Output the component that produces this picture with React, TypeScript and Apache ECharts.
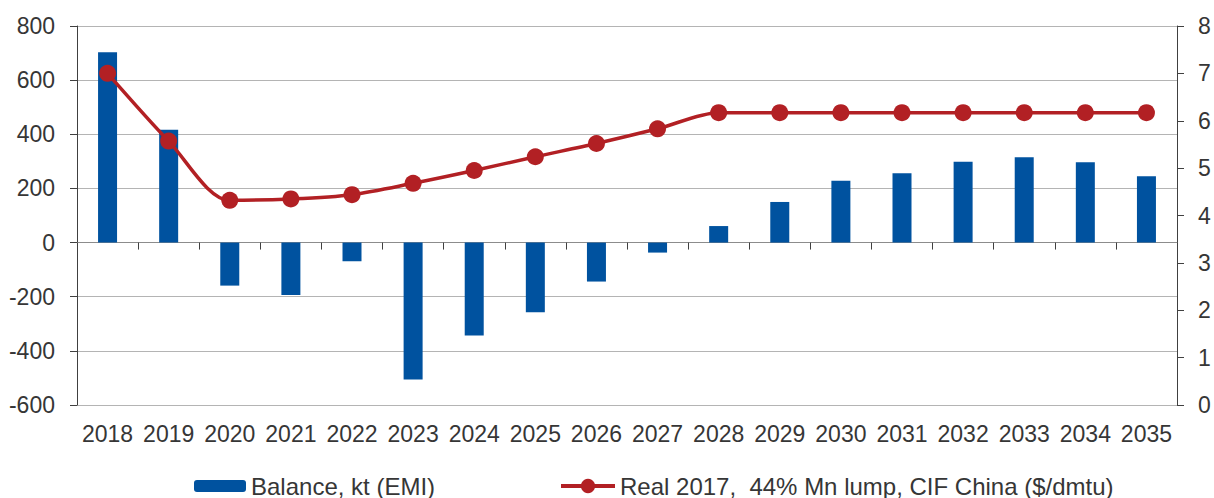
import React, { useEffect, useRef } from "react";
import * as echarts from "echarts";

const years = ["2018","2019","2020","2021","2022","2023","2024","2025","2026","2027","2028","2029","2030","2031","2032","2033","2034","2035"];
const balance = [703, 417, -159, -194, -69, -506, -343, -257, -144, -37, 61, 150, 228, 256, 299, 315, 297, 245];
const price = [7.0, 5.57, 4.32, 4.35, 4.44, 4.68, 4.95, 5.24, 5.52, 5.83, 6.17, 6.17, 6.17, 6.17, 6.17, 6.17, 6.17, 6.17];
const leftTicks = { min: -600, max: 800, step: 200 };
const rightTicks = { min: 0, max: 8, step: 1 };
const barName = "Balance, kt (EMI)";
const lineName = "Real 2017,  44% Mn lump, CIF China ($/dmtu)";

const FONT = "Liberation Sans, Arial, sans-serif";
const TXT = "#363636";
const FS = 23;
const LFS = 24;

export default function App() {
  const ref = useRef<HTMLDivElement>(null);
  useEffect(() => {
    const chart = echarts.init(ref.current!, undefined, { renderer: "svg" });
    chart.setOption({
      animation: false,
      textStyle: { fontFamily: FONT },
      grid: { left: 77, right: 37, top: 26, bottom: 93, containLabel: false },
      legend: [
        {
          data: [barName],
          left: 194,
          top: 474,
          padding: 0,
          itemWidth: 52,
          itemHeight: 12,
          textStyle: { fontSize: LFS, color: TXT, fontFamily: FONT },
        },
        {
          data: [lineName],
          left: 559,
          top: 474,
          padding: 0,
          itemWidth: 54,
          itemHeight: 18,
          lineStyle: { width: 4 },
          textStyle: { fontSize: LFS, color: TXT, fontFamily: FONT },
        },
      ],
      xAxis: [
        {
          type: "category",
          data: years,
          axisLine: { onZero: true, lineStyle: { color: "#8c8c8c", width: 1 } },
          axisTick: { show: true, length: 7, alignWithLabel: false, lineStyle: { color: "#404040" } },
          axisLabel: { show: false },
        },
        {
          type: "category",
          data: years,
          position: "bottom",
          axisLine: { show: false },
          axisTick: { show: false },
          axisLabel: { interval: 0, fontSize: FS, color: TXT, margin: 17, fontFamily: FONT },
        },
      ],
      yAxis: [
        {
          type: "value",
          min: leftTicks.min,
          max: leftTicks.max,
          interval: leftTicks.step,
          axisLine: { show: true, lineStyle: { color: "#404040" } },
          axisTick: { show: true, length: 7, lineStyle: { color: "#404040" } },
          axisLabel: { fontSize: FS, color: TXT, margin: 22, fontFamily: FONT },
          splitLine: { lineStyle: { color: "#b4b4b4", width: 1 } },
        },
        {
          type: "value",
          min: rightTicks.min,
          max: rightTicks.max,
          interval: rightTicks.step,
          position: "right",
          axisLine: { show: true, lineStyle: { color: "#404040" } },
          axisTick: { show: true, length: 7, inside: false, lineStyle: { color: "#404040" } },
          axisLabel: { fontSize: FS, color: TXT, margin: 21, fontFamily: FONT },
          splitLine: { show: false },
        },
      ],
      series: [
        {
          name: barName,
          type: "bar",
          xAxisIndex: 0,
          yAxisIndex: 0,
          data: balance,
          barWidth: 19,
          itemStyle: { color: "#00529f" },
        },
        {
          name: lineName,
          type: "line",
          xAxisIndex: 0,
          yAxisIndex: 1,
          data: price,
          smooth: 0.3,
          symbol: "circle",
          symbolSize: 17,
          lineStyle: { color: "#b22024", width: 3.5 },
          itemStyle: { color: "#b22024" },
        },
      ],
    });
    return () => chart.dispose();
  }, []);
  return (
    <div
      ref={ref}
      style={{ position: "absolute", left: 0, top: 0, width: 1214, height: 498 }}
    />
  );
}
